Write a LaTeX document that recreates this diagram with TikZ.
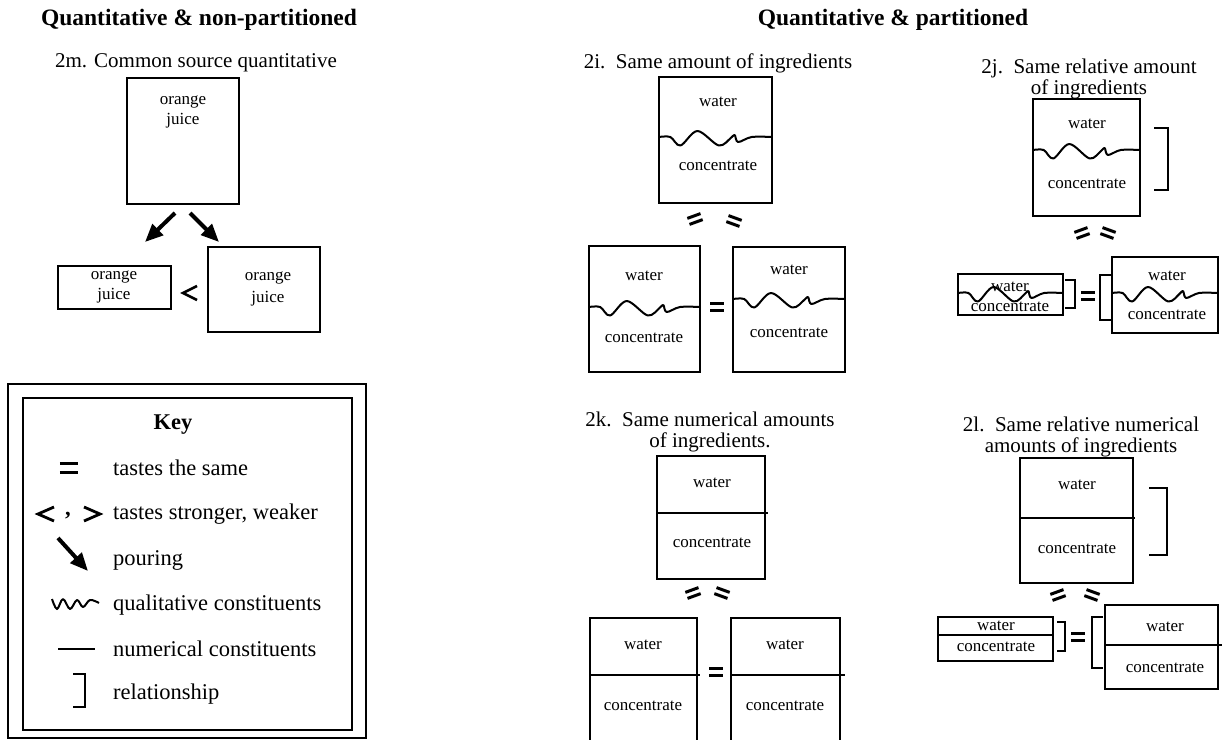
\documentclass[tikz,border=0pt]{standalone}
\usepackage{fontspec}
\setmainfont{Liberation Serif}
\usetikzlibrary{arrows.meta,fit}
\newcommand\boxfont{\fontsize{17}{20}\selectfont}
\newcommand\subfont{\fontsize{21}{21}\selectfont}
\newcommand\keyfont{\fontsize{22.5}{24}\selectfont}
\newcommand\headfont{\fontsize{23.5}{26}\selectfont\bfseries}
\newcommand\wavyline[3]{%
  \begin{scope}[shift={(#1,#3)},xscale=#2]
    \draw[wavy] plot[smooth,tension=0.55] coordinates
      {(0,0) (0.1,0) (0.19,8.5) (0.34,-6) (0.53,8.5) (0.64,0.5) (0.67,-2) (0.70,5) (0.82,0) (1,0)};
  \end{scope}}
\tikzset{
  box/.style={draw, line width=1.8pt, inner sep=0pt},
  lbl/.style={font=\boxfont, align=center, inner sep=0pt},
  sub/.style={font=\subfont, align=center, inner sep=0pt},
  keytext/.style={font=\keyfont, anchor=west, inner sep=0pt},
  wavy/.style={line width=2pt, line join=round},
  divider/.style={line width=1.8pt},
  brk/.style={line width=2.2pt},
  relsign/.style={line width=2.6pt},
  pour/.style={line width=4pt, -{Triangle[length=18pt,width=15pt]}},
  eqs/.pic={\draw[line width=3pt] (-7,-3.2) -- (7,-3.2) (-7,3.2) -- (7,3.2);}
}
\begin{document}
\begin{tikzpicture}[x=1pt,y=-1pt]
\useasboundingbox (0,0) rectangle (1222,739);
\clip (0,0) rectangle (1222,739);

% headings
\node[font=\headfont] (hL) at (199,20) {Quantitative \& non-partitioned};
\node[font=\headfont] (hR) at (893,20) {Quantitative \& partitioned};

% ---------- 2m ----------
\node[sub] (t2m) at (196,63) {2m. Common source quantitative};
\node[box, fit={(127,78) (239,204)}] (mA) {};
\node[lbl] at (183,112) {orange\\juice};
\node[box, fit={(58,266) (171,309)}] (mB) {};
\node[lbl] at (114,287) {orange\\juice};
\node[box, fit={(208,247) (320,332)}] (mC) {};
\node[lbl] at (268,289) {orange\\[2pt]juice};
\coordinate (pa1) at (175,213); \coordinate (pa2) at (145,242);
\coordinate (pb1) at (190,213); \coordinate (pb2) at (219,242);
\draw[pour] (pa1) -- (pa2);
\draw[pour] (pb1) -- (pb2);
\draw[relsign] (197,286) -- (183,293) -- (197,300);

% ---------- Key ----------
\node[draw, line width=1.8pt, fit={(8,384) (366,738)}, inner sep=0pt] (keyout) {};
\node[draw, line width=1.8pt, fit={(23,398) (352,730)}, inner sep=0pt] (keyin) {};
\node[font=\keyfont\bfseries] (keyt) at (173,425) {Key};
\path (69,468) pic[scale=1.3] {eqs};
\node[keytext] (k1) at (113,468) {tastes the same};
\draw[relsign,line width=2.8pt] (54,507) -- (38,514) -- (54,521);
\node[font=\keyfont\bfseries, inner sep=0pt] (kcomma) at (68,516) {,};
\draw[relsign,line width=2.8pt] (84,507) -- (100,514) -- (84,521);
\node[keytext] (k2) at (113,514) {tastes stronger, weaker};
\coordinate (kp1) at (58,538); \coordinate (kp2) at (88,571);
\draw[pour] (kp1) -- (kp2);
\node[keytext] (k3) at (113,560) {pouring};
\draw[wavy] plot[smooth,tension=0.6] coordinates {(52,599) (57,609) (63,599) (70,609) (77,600) (83,607) (90,600) (99,603)};
\node[keytext] (k4) at (113,605) {qualitative constituents};
\draw[divider,line width=2pt] (58,649) -- (95,649);
\node[keytext] (k5) at (113,649) {numerical constituents};
\draw[brk] (73,674) -- (85,674) -- (85,707) -- (73,707);
\node[keytext] (k6) at (113,694) {relationship};

% ---------- 2i ----------
\node[sub] (t2i) at (718,63) {2i.\ \ Same amount of ingredients};
\node[box, fit={(659,77) (772,203)}] (iA) {};
\wavyline{659}{113}{137}
\node[lbl] at (718,102) {water};
\node[lbl] at (718,166) {concentrate};
\path (695,219) pic[rotate=20] {eqs};
\path (734,221) pic[rotate=-20] {eqs};
\node[box, fit={(589,246) (700,372)}] (iB) {};
\wavyline{589}{111}{307}
\node[lbl] at (644,276) {water};
\node[lbl] at (644,338) {concentrate};
\path (717,307) pic {eqs};
\node[box, fit={(733,247) (845,372)}] (iC) {};
\wavyline{733}{112}{299}
\node[lbl] at (789,270) {water};
\node[lbl] at (789,333) {concentrate};

% ---------- 2j ----------
\node[sub] (t2j) at (1089,79) {2j.\ \ Same relative amount\\of ingredients};
\node[box, fit={(1033,99) (1140,216)}] (jA) {};
\wavyline{1033}{107}{150}
\node[lbl] at (1087,124) {water};
\node[lbl] at (1087,184) {concentrate};
\draw[brk] (1154,128) -- (1168,128) -- (1168,190) -- (1154,190);
\path (1082,233) pic[rotate=20] {eqs};
\path (1108,233) pic[rotate=-20] {eqs};
\node[box, fit={(958,274) (1063,315)}] (jB) {};
\wavyline{958}{105}{293}
\node[lbl] at (1010,287) {water};
\node[lbl] at (1010,307) {concentrate};
\draw[brk] (1065,280) -- (1075,280) -- (1075,308) -- (1065,308);
\path (1088,296) pic {eqs};
\draw[brk] (1112,275) -- (1100,275) -- (1100,320) -- (1112,320);
\node[box, fit={(1112,257) (1218,333)}] (jC) {};
\wavyline{1112}{106}{293}
\node[lbl] at (1167,276) {water};
\node[lbl] at (1167,315) {concentrate};

% ---------- 2k ----------
\node[sub] (t2k) at (710,432) {2k.\ \ Same numerical amounts\\of ingredients.};
\node[box, fit={(657,456) (765,579)}] (kA) {};
\draw[divider] (657,513) -- (768,513);
\node[lbl] at (712,483) {water};
\node[lbl] at (712,543) {concentrate};
\path (693,593) pic[rotate=20] {eqs};
\path (722,593) pic[rotate=-20] {eqs};
\node[box, fit={(590,618) (697,745)}] (kB) {};
\draw[divider] (590,675) -- (700,675);
\node[lbl] at (643,645) {water};
\node[lbl] at (643,706) {concentrate};
\path (716,672) pic {eqs};
\node[box, fit={(731,618) (840,745)}] (kC) {};
\draw[divider] (731,675) -- (845,675);
\node[lbl] at (785,645) {water};
\node[lbl] at (785,706) {concentrate};

% ---------- 2l ----------
\node[sub] (t2l) at (1081,437) {2l.\ \ Same relative numerical\\amounts of ingredients};
\node[box, fit={(1020,458) (1133,583)}] (lA) {};
\draw[divider] (1020,518) -- (1135,518);
\node[lbl] at (1077,485) {water};
\node[lbl] at (1077,549) {concentrate};
\draw[brk] (1149,488) -- (1167,488) -- (1167,555) -- (1149,555);
\path (1058,595) pic[rotate=20] {eqs};
\path (1092,595) pic[rotate=-20] {eqs};
\node[box, fit={(938,617) (1053,661)}] (lB) {};
\draw[divider] (938,635) -- (1053,635);
\node[lbl] at (996,626) {water};
\node[lbl] at (996,647) {concentrate};
\draw[brk] (1057,622) -- (1065,622) -- (1065,651) -- (1057,651);
\path (1078,637) pic {eqs};
\draw[brk] (1103,617) -- (1092,617) -- (1092,668) -- (1103,668);
\node[box, fit={(1105,605) (1218,689)}] (lC) {};
\draw[divider] (1105,645) -- (1222,645);
\node[lbl] at (1165,627) {water};
\node[lbl] at (1165,668) {concentrate};
\end{tikzpicture}
\end{document}
